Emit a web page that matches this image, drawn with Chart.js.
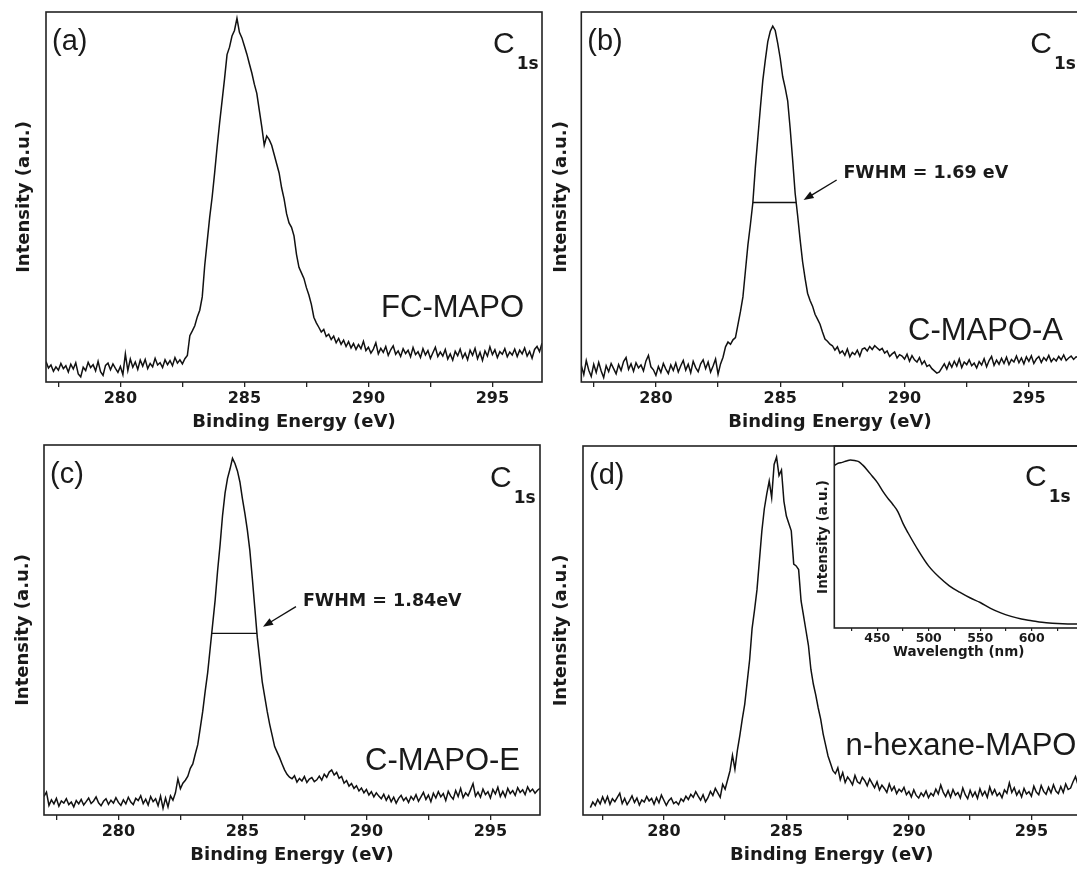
<!DOCTYPE html>
<html>
<head>
<meta charset="utf-8">
<script src="https://cdn.jsdelivr.net/npm/chart.js@4.4.1/dist/chart.umd.min.js"></script>
<style>
html,body{margin:0;padding:0;background:#fff;width:1077px;height:872px;overflow:hidden;position:relative;}
canvas{position:absolute;}
</style>
</head>
<body>
<canvas id="pa"></canvas>
<canvas id="pb"></canvas>
<canvas id="pc"></canvas>
<canvas id="pd"></canvas>
<canvas id="pinset"></canvas>
<script>
// ---------- data ----------
const energyStart = 277;
const energyStep = 0.1;
const energyTicks = [277.5, 280, 282.5, 285, 287.5, 290, 292.5, 295];

// (a) FC-MAPO, 277.0 ... 297.0 eV, 0.1 eV step
const intensityA = [
  5.5, 3.8, 4.6, 2.9, 4.1, 3.2, 5.0, 3.6, 4.4, 2.7,
  4.8, 3.5, 5.2, 2.2, 1.4, 4.0, 3.1, 5.3, 3.9, 4.7,
  3.0, 5.6, 2.8, 1.8, 4.5, 5.1, 3.3, 4.9, 3.7, 2.6,
  4.2, 2.0, 7.6, 3.1, 6.2, 4.0, 5.4, 3.4, 5.9, 4.3,
  6.1, 3.6, 5.0, 4.1, 6.4, 4.6, 5.2, 3.9, 6.0, 4.7,
  5.8, 4.4, 6.6, 5.1, 6.0, 4.9, 6.3, 7.2, 12.5, 13.8,
  15.2, 17.6, 19.4, 23.0, 31.5, 38.0, 44.5, 50.0, 56.5, 63.5,
  70.0, 76.0, 82.0, 88.5, 90.5, 93.5, 95.0, 98.3, 94.5, 93.0,
  90.8, 88.6, 86.0, 83.5, 80.5, 78.0, 73.5, 69.0, 64.0, 66.5,
  65.5, 64.0, 61.5, 59.0, 56.5, 52.5, 49.5, 45.5, 43.0, 41.8,
  39.5, 34.5, 31.0, 29.5, 28.0, 25.5, 23.5, 21.0, 17.5, 16.0,
  14.8, 13.5, 14.2, 12.3, 12.9, 11.5, 12.4, 10.6, 11.8, 10.2,
  11.3, 9.6, 10.9, 9.2, 10.4, 8.8, 10.1, 9.0, 11.0, 8.5,
  9.4, 7.8, 8.9, 10.6, 7.6, 9.1, 8.0, 9.6, 7.2, 8.7,
  9.8, 7.5, 8.4, 6.9, 9.0, 7.7, 8.6, 6.8, 9.3, 7.4,
  8.2, 6.6, 9.0, 7.3, 8.5, 6.4, 7.9, 9.4, 6.9, 8.1,
  7.0, 8.8, 6.2, 7.6, 5.9, 8.3, 7.1, 8.9, 6.5, 7.8,
  6.0, 8.6, 7.2, 9.1, 6.3, 8.0, 5.8, 8.4, 7.0, 9.5,
  7.4, 8.7, 6.6, 8.2, 7.5, 9.0, 6.8, 8.1, 7.3, 8.9,
  6.9, 8.6, 7.6, 9.2, 7.0, 8.3, 6.4, 8.8, 9.6, 8.2,
  10.5
];

// (b) C-MAPO-A
const intensityB = [
  4.5, 2.0, 5.8, 3.2, 1.5, 4.8, 2.6, 5.3, 3.0, 1.2,
  4.4, 2.8, 5.0, 3.6, 2.2, 4.7, 3.1, 5.5, 6.6, 3.4,
  4.9, 2.9, 5.2, 3.8, 4.6, 3.0, 5.7, 7.2, 4.1, 3.3,
  1.8, 4.2, 2.6, 5.0, 3.5, 2.3, 4.6, 3.1, 5.1, 2.7,
  4.4, 5.8, 3.2, 4.8, 2.5, 5.6, 3.9, 2.8, 4.9, 6.0,
  3.6, 5.4, 2.7, 4.3, 6.2, 2.1, 4.9, 6.7, 9.5, 10.8,
  10.2, 11.4, 12.0, 15.5, 19.0, 23.0, 30.0, 37.0, 42.5, 48.5,
  58.0, 66.0, 74.0, 81.5, 87.0, 92.0, 94.8, 96.2, 95.0, 91.5,
  87.5, 82.5, 79.5, 76.0, 68.5, 60.0, 51.0, 45.0, 38.5, 32.5,
  28.0, 24.0, 22.0, 20.5, 18.3, 17.0, 15.6, 13.5, 11.6, 11.0,
  10.2, 9.8, 8.6, 9.5, 7.8, 8.4, 7.2, 8.9, 6.8, 8.0,
  7.4, 8.6, 7.0, 8.9, 9.2, 8.4, 9.6, 8.8, 9.8, 9.2,
  8.6, 9.1, 7.8, 8.4, 6.9, 7.6, 8.1, 6.5, 7.4, 7.0,
  6.2, 7.5, 5.6, 7.1, 6.0, 5.4, 6.6, 4.8, 5.7, 4.2,
  4.6, 3.6, 3.0, 2.4, 2.7, 3.8, 4.9, 3.5, 5.3, 4.0,
  5.6, 4.3, 6.2, 3.9, 5.4, 4.7, 6.0, 4.4, 5.1, 3.8,
  5.5, 4.6, 6.3, 4.1, 5.8, 6.9, 4.5, 5.9, 4.8, 6.4,
  5.0, 6.7, 4.7, 6.1, 5.4, 7.0, 5.2, 6.5, 4.9, 6.8,
  5.6, 7.1, 5.0, 6.2, 6.9, 5.3, 6.6, 5.8, 7.2, 5.5,
  6.4, 5.7, 6.9, 6.0, 7.3, 5.8, 6.5, 7.0, 6.1, 6.8,
  6.6
];

// (c) C-MAPO-E
const intensityC = [
  5.0, 6.2, 2.6, 4.1, 3.0, 4.5, 2.4, 3.8, 3.2, 4.4,
  2.8, 3.5, 2.2, 3.9, 3.0, 4.2, 2.7, 3.6, 4.6, 3.1,
  3.8, 4.9, 3.3, 2.5, 3.7, 4.4, 2.9, 4.0, 3.2, 4.7,
  3.4, 2.6, 4.1, 3.0, 4.8, 3.5, 2.8, 4.5, 3.9, 5.2,
  3.1, 4.3, 2.7, 5.0, 3.6, 4.4, 2.5, 5.1, 1.8, 4.6,
  2.2, 5.2, 4.0, 6.0, 9.8, 7.1, 8.6, 9.4, 10.5, 12.6,
  13.8, 16.5, 19.0, 23.5, 28.0, 33.5, 38.5, 45.0, 51.5, 58.0,
  66.0, 73.0, 81.0, 87.0, 91.0, 93.5, 96.4, 95.0, 93.0, 90.0,
  85.5, 81.5, 77.0, 71.5, 64.0, 56.0, 48.0, 42.0, 36.0, 32.0,
  28.0, 24.5, 21.5, 18.5, 17.0, 15.5, 13.8, 12.2, 11.0, 10.2,
  9.8, 10.6, 8.9, 9.9, 9.2, 10.4, 8.8, 9.7, 10.1, 9.0,
  9.5, 10.5, 9.4, 11.0, 10.2, 11.6, 12.2, 10.8, 11.5, 9.9,
  10.4, 8.6, 9.3, 7.8, 8.5, 7.2, 7.9, 6.5, 7.3, 6.0,
  6.9, 5.4, 6.3, 4.9, 6.0, 5.1, 4.4, 5.6, 4.0, 5.2,
  3.6, 4.8, 3.2, 4.5, 5.3, 3.9, 4.7, 3.4, 5.0, 4.1,
  5.5, 3.7, 4.9, 6.1, 4.2, 5.4, 3.6, 5.9, 4.6, 6.3,
  4.9, 5.8, 3.9, 6.4, 5.1, 4.3, 6.6, 5.0, 7.2, 4.7,
  6.0, 5.2, 6.8, 8.5, 5.1, 6.2, 4.8, 7.0, 5.5, 6.3,
  4.6, 6.9, 5.7, 7.5, 5.0, 6.4, 4.9, 7.2, 5.8, 6.6,
  5.3, 7.4, 6.1, 6.8, 5.5, 7.6, 6.3, 7.0, 5.9, 6.7,
  7.2
];

// (d) n-hexane-MAPO
const intensityD = [
  2.0, 3.5, 2.6, 4.2, 3.0, 4.9, 3.3, 5.0, 2.9, 4.4,
  3.6, 4.8, 5.9, 3.1, 4.5, 2.8, 3.9, 5.2, 3.4, 4.6,
  2.7, 4.1, 3.5, 5.0, 3.8, 4.5, 2.9, 4.7, 3.3, 5.4,
  4.0, 2.6, 3.9, 4.6, 3.1, 3.6, 2.8, 4.4, 3.7, 5.1,
  4.2, 5.6, 4.8, 6.3, 5.1, 4.0, 5.5, 3.6, 4.7, 6.4,
  5.3, 7.2, 6.0, 4.8, 8.3, 7.0, 9.5, 12.0, 16.2, 12.4,
  17.5, 21.5, 26.0, 30.0, 36.0, 42.0, 50.5, 55.5, 61.0, 69.0,
  77.0, 83.0, 87.0, 90.5, 86.0, 95.0, 97.0, 92.0, 93.5, 85.0,
  81.0, 79.0, 77.0, 68.0, 67.5, 66.5, 58.0, 54.0, 50.0, 46.0,
  39.5, 35.5, 32.5, 29.0, 26.0, 22.0, 19.0, 16.0, 14.0, 12.0,
  11.2, 12.8, 9.6, 11.5, 8.8, 10.3, 9.4, 8.2, 10.7, 9.0,
  8.5, 10.2, 9.3, 7.9, 9.8, 8.6, 7.4, 9.0, 6.8, 8.1,
  7.2, 6.1, 8.4, 6.6, 7.7, 5.8, 7.0, 6.3, 7.5, 5.5,
  6.4, 4.9, 6.8, 5.3, 4.6, 6.0, 5.1, 6.5, 4.7, 5.9,
  5.2, 7.0, 5.7, 8.1, 6.2, 5.0, 6.6, 4.8, 6.9, 5.4,
  6.1, 4.6, 7.3, 5.5, 4.4, 6.7, 5.0, 6.2, 4.5, 7.1,
  5.3, 6.4, 4.8, 7.6, 5.6, 6.9, 5.2, 6.0, 4.7, 6.8,
  5.9, 8.7, 6.1, 7.4, 5.4, 6.6, 4.9, 7.2, 5.7, 6.3,
  5.1, 7.8, 6.2, 5.5, 8.0, 6.4, 5.6, 7.5, 6.0, 8.2,
  6.5, 5.8, 7.7, 6.1, 8.4, 6.9, 7.3, 9.0, 10.4, 8.2,
  9.0
];

// inset: PL spectrum
const wavelengths = [408, 412, 416, 420, 424, 428, 432, 436, 440, 445, 450, 455, 460, 465, 470, 475, 480,
  490, 500, 510, 520, 530, 540, 550, 560, 570, 580, 590, 600, 610, 620, 630, 640, 650];
const plIntensity = [0.891, 0.905, 0.910, 0.918, 0.923, 0.920, 0.914, 0.895, 0.870, 0.835, 0.800, 0.755, 0.715, 0.680, 0.640, 0.575, 0.522,
  0.425, 0.340, 0.280, 0.232, 0.197, 0.166, 0.140, 0.108, 0.083, 0.064, 0.049, 0.040, 0.031, 0.026, 0.023, 0.022, 0.022];
const wavelengthTicks = [425, 450, 475, 500, 525, 550, 575, 600, 625];

// ---------- style ----------
const BOLD = "'DejaVu Sans', sans-serif";
const REG = "'Liberation Sans', Arial, sans-serif";
const INK = '#1a1a1a';
const LINE = '#111111';

function xyPoints(values, start, step) {
  return values.map((v, i) => ({ x: Math.round((start + i * step) * 10) / 10, y: v }));
}

const framePlugin = {
  id: 'frame',
  afterDraw(chart) {
    const { ctx, chartArea: a } = chart;
    ctx.save();
    ctx.strokeStyle = '#222';
    ctx.lineWidth = 1.6;
    ctx.strokeRect(a.left, a.top, a.right - a.left, a.bottom - a.top);
    ctx.restore();
  }
};

function makeTextPlugin(t) {
  return {
    id: 'panelText',
    afterDraw(chart) {
      const { ctx, chartArea: a, scales: { x, y } } = chart;
      ctx.save();
      ctx.fillStyle = INK;
      ctx.textBaseline = 'alphabetic';
      ctx.textAlign = 'left';
      ctx.font = `29px ${REG}`;
      ctx.fillText(t.letter, a.left + 6, a.top + 38);
      ctx.font = `30px ${REG}`;
      ctx.fillText('C', a.left + t.cX, a.top + t.cY);
      const cw = ctx.measureText('C').width;
      ctx.font = `bold 17px ${BOLD}`;
      ctx.fillText('1s', a.left + t.cX + cw + 2, a.top + t.cY + 16);
      ctx.font = `31px ${REG}`;
      ctx.textAlign = t.sampleAlign;
      ctx.fillText(t.sample, a.left + t.sampleX, a.top + t.sampleY);
      if (t.fwhm) {
        const f = t.fwhm;
        ctx.strokeStyle = LINE;
        ctx.fillStyle = LINE;
        ctx.lineWidth = 1.4;
        const yl = y.getPixelForValue(f.level);
        ctx.beginPath();
        ctx.moveTo(x.getPixelForValue(f.from), yl);
        ctx.lineTo(x.getPixelForValue(f.to), yl);
        ctx.stroke();
        const x0 = x.getPixelForValue(f.tail[0]), y0 = y.getPixelForValue(f.tail[1]);
        const x1 = x.getPixelForValue(f.head[0]), y1 = y.getPixelForValue(f.head[1]);
        const ang = Math.atan2(y1 - y0, x1 - x0), hl = 10, hw = 3.8;
        ctx.beginPath();
        ctx.moveTo(x0, y0);
        ctx.lineTo(x1 - hl * 0.8 * Math.cos(ang), y1 - hl * 0.8 * Math.sin(ang));
        ctx.stroke();
        ctx.beginPath();
        ctx.moveTo(x1, y1);
        ctx.lineTo(x1 - hl * Math.cos(ang) + hw * Math.sin(ang), y1 - hl * Math.sin(ang) - hw * Math.cos(ang));
        ctx.lineTo(x1 - hl * Math.cos(ang) - hw * Math.sin(ang), y1 - hl * Math.sin(ang) + hw * Math.cos(ang));
        ctx.closePath();
        ctx.fill();
        ctx.fillStyle = INK;
        ctx.font = `bold 17.5px ${BOLD}`;
        ctx.textAlign = 'left';
        ctx.fillText(f.text, x.getPixelForValue(f.textAt[0]), y.getPixelForValue(f.textAt[1]));
      }
      ctx.restore();
    }
  };
}

function placeCanvas(id, g) {
  const cv = document.getElementById(id);
  cv.width = g.w; cv.height = g.h;
  cv.style.left = g.left + 'px';
  cv.style.top = g.top + 'px';
  cv.style.width = g.w + 'px';
  cv.style.height = g.h + 'px';
  return cv;
}

function buildPanel(id, g, values, txt) {
  const cv = placeCanvas(id, g);
  return new Chart(cv, {
    type: 'line',
    data: {
      datasets: [{
        data: xyPoints(values, energyStart, energyStep),
        borderColor: LINE, borderWidth: 1.5, pointRadius: 0, tension: 0, fill: false
      }]
    },
    options: {
      responsive: false, animation: false, events: [],
      layout: { padding: { top: g.padTop, right: g.padRight, left: 0, bottom: 0 } },
      plugins: { legend: { display: false }, tooltip: { enabled: false } },
      scales: {
        x: {
          type: 'linear', position: 'bottom', min: g.xMin, max: g.xMax,
          afterBuildTicks(s) { s.ticks = energyTicks.filter(v => v >= g.xMin && v <= g.xMax).map(v => ({ value: v })); },
          afterFit(s) { s.height = g.xH; },
          grid: { display: true, drawOnChartArea: false, drawTicks: true, tickLength: 5, color: '#222', lineWidth: 1.3 },
          border: { display: false },
          ticks: {
            autoSkip: false, maxRotation: 0, minRotation: 0, padding: 2, color: INK,
            font: { family: BOLD, size: 16, weight: 'bold' },
            callback: (v) => (v % 5 === 0 ? String(v) : '')
          },
          title: {
            display: true, text: 'Binding Energy (eV)', color: INK,
            font: { family: BOLD, size: 18, weight: 'bold', lineHeight: 1 },
            padding: { top: 0, bottom: g.xTitlePad }
          }
        },
        y: {
          type: 'linear', min: 0, max: 100,
          afterFit(s) { s.width = g.yW; },
          grid: { display: false }, border: { display: false },
          ticks: { display: false },
          title: {
            display: true, text: 'Intensity (a.u.)', color: INK,
            font: { family: BOLD, size: 18, weight: 'bold', lineHeight: 1 },
            padding: { top: g.yTitlePad, bottom: 0 }
          }
        }
      }
    },
    plugins: [framePlugin, makeTextPlugin(txt)]
  });
}

buildPanel('pa',
  { left: 0, top: 0, w: 548, h: 438, padTop: 12, padRight: 6, yW: 46, xH: 56, xMin: 277, xMax: 297, yTitlePad: 15, xTitlePad: 7 },
  intensityA,
  { letter: '(a)', cX: 447, cY: 41, sample: 'FC-MAPO', sampleAlign: 'right', sampleX: 478, sampleY: 305 });

buildPanel('pb',
  { left: 535, top: 0, w: 552, h: 438, padTop: 12, padRight: 8.4, yW: 46.3, xH: 56, xMin: 277, xMax: 297, yTitlePad: 17, xTitlePad: 7 },
  intensityB,
  { letter: '(b)', cX: 449, cY: 41, sample: 'C-MAPO-A', sampleAlign: 'right', sampleX: 481.7, sampleY: 328,
    fwhm: { from: 283.9, to: 285.64, level: 48.5, tail: [287.27, 54.6], head: [285.94, 49.2],
            text: 'FWHM = 1.69 eV', textAt: [287.54, 55.1] } });

buildPanel('pc',
  { left: 0, top: 433, w: 548, h: 438, padTop: 12, padRight: 8, yW: 44, xH: 56, xMin: 277, xMax: 297, yTitlePad: 14, xTitlePad: 7 },
  intensityC,
  { letter: '(c)', cX: 446, cY: 42, sample: 'C-MAPO-E', sampleAlign: 'right', sampleX: 476, sampleY: 325,
    fwhm: { from: 283.77, to: 285.59, level: 49.1, tail: [287.16, 56.3], head: [285.83, 50.9],
            text: 'FWHM = 1.84eV', textAt: [287.44, 56.5] } });

buildPanel('pd',
  { left: 537, top: 434, w: 552, h: 438, padTop: 12, padRight: 8.6, yW: 46, xH: 57, xMin: 276.7, xMax: 297, yTitlePad: 15, xTitlePad: 8 },
  intensityD,
  { letter: '(d)', cX: 442, cY: 40, sample: 'n-hexane-MAPO', sampleAlign: 'left', sampleX: 262.6, sampleY: 309 });

// inset
(function () {
  const g = { left: 790, top: 440, w: 300, h: 221, padTop: 6, padRight: 6.8, yW: 44.3, xH: 33, xMin: 408.3, xMax: 650 };
  const cv = placeCanvas('pinset', g);
  new Chart(cv, {
    type: 'line',
    data: {
      datasets: [{
        data: wavelengths.map((w, i) => ({ x: w, y: plIntensity[i] })),
        borderColor: LINE, borderWidth: 1.5, pointRadius: 0, cubicInterpolationMode: 'monotone', fill: false
      }]
    },
    options: {
      responsive: false, animation: false, events: [],
      layout: { padding: { top: g.padTop, right: g.padRight, left: 0, bottom: 0 } },
      plugins: { legend: { display: false }, tooltip: { enabled: false } },
      scales: {
        x: {
          type: 'linear', position: 'bottom', min: g.xMin, max: g.xMax,
          afterBuildTicks(s) { s.ticks = wavelengthTicks.map(v => ({ value: v })); },
          afterFit(s) { s.height = g.xH; },
          grid: { display: true, drawOnChartArea: false, drawTicks: true, tickLength: 3, color: '#222', lineWidth: 1.2 },
          border: { display: false },
          ticks: {
            autoSkip: false, maxRotation: 0, minRotation: 0, padding: 0, color: INK,
            font: { family: BOLD, size: 12.5, weight: 'bold' },
            callback: (v) => (v % 50 === 0 ? String(v) : '')
          },
          title: {
            display: true, text: 'Wavelength (nm)', color: INK,
            font: { family: BOLD, size: 13.5, weight: 'bold', lineHeight: 1 },
            padding: { top: 0, bottom: 2.25 }
          }
        },
        y: {
          type: 'linear', min: 0, max: 1,
          afterFit(s) { s.width = g.yW; },
          grid: { display: false }, border: { display: false },
          ticks: { display: false },
          title: {
            display: true, text: 'Intensity (a.u.)', color: INK,
            font: { family: BOLD, size: 13.5, weight: 'bold', lineHeight: 1 },
            padding: { top: 26.25, bottom: 0 }
          }
        }
      }
    },
    plugins: [framePlugin]
  });
})();
</script>
</body>
</html>
